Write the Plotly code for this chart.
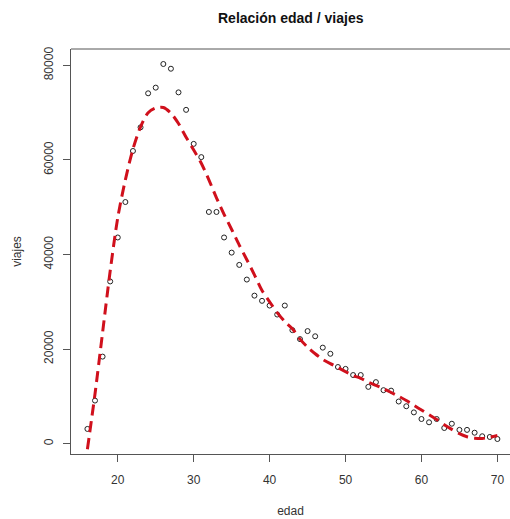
import plotly.graph_objects as go

# Observed points
edad = list(range(16, 71))
viajes = [3100, 9100, 18400, 34300, 43600, 51100, 61900, 66900, 74100, 75300,
          80300, 79300, 74300, 70600, 63400, 60600, 49000, 49000, 43600, 40400,
          37800, 34700, 31300, 30200, 29200, 27300, 29200, 24000, 22100, 23800,
          22700, 20300, 19000, 16200, 15800, 14500, 14500, 12000, 13000, 11300,
          11200, 8900, 7900, 6600, 5200, 4500, 5200, 3300, 4200, 2900,
          2900, 2300, 1550, 1400, 970]

# Fitted curve (dashed red)
curva_edad = list(range(16, 71))
curva_viajes = [-1200, 10500, 23500, 36500, 47800, 55800, 62300, 67000, 70000, 71000,
                71100, 69900, 67700, 64800, 62100, 59300, 55800, 52000, 48500, 45300,
                42000, 38900, 35700, 32400, 30000, 27700, 25800, 24300, 22100, 20400,
                19000, 17800, 16900, 16100, 15200, 14400, 13800, 13000, 12300, 11600,
                10800, 10000, 9100, 8100, 7100, 6100, 5100, 4000, 3000, 2100,
                1450, 1150, 1080, 1350, 1700]

x_ticks = [20, 30, 40, 50, 60, 70]
y_ticks = [0, 20000, 40000, 60000, 80000]

W, H = 510, 519
L, R, T, B = 71, 0, 49, 65
axis_col = "#555555"
txt_col = "#333333"
font_fam = "Liberation Sans, Arial, sans-serif"

fig = go.Figure()
fig.add_trace(go.Scatter(
    x=edad, y=viajes, mode="markers",
    marker=dict(symbol="circle-open", size=5, color="#222222", line=dict(width=1, color="#222222")),
    showlegend=False, hoverinfo="skip"))
fig.add_trace(go.Scatter(
    x=curva_edad, y=curva_viajes, mode="lines",
    line=dict(color="#d0101c", width=3, dash="11px,6px", shape="spline", smoothing=0.8),
    showlegend=False, hoverinfo="skip"))

fig.update_layout(
    width=W, height=H,
    margin=dict(l=L, r=R, t=T, b=B),
    paper_bgcolor="white", plot_bgcolor="white",
    font=dict(family=font_fam, size=12, color=txt_col),
    xaxis=dict(range=[13.84, 71.66], tickvals=x_ticks, ticktext=[str(v) for v in x_ticks],
               showgrid=False, zeroline=False, showline=True, linecolor=axis_col, linewidth=1,
               ticks="outside", ticklen=7, tickcolor=axis_col, tickfont=dict(size=12, color=txt_col),
               ticklabelstandoff=8,
               title=dict(text="edad", font=dict(size=12, color=txt_col), standoff=20)),
    yaxis=dict(range=[-2203, 83473], tickvals=y_ticks, ticktext=[str(v) for v in y_ticks],
               tickangle=-90, ticklabelstandoff=5,
               showgrid=False, zeroline=False, showline=True, linecolor=axis_col, linewidth=1,
               ticks="outside", ticklen=7, tickcolor=axis_col, tickfont=dict(size=12, color=txt_col),
               title=dict(text="viajes", font=dict(size=12, color=txt_col), standoff=18)),
    shapes=[dict(type="line", xref="paper", yref="paper", x0=0, x1=1, y0=1, y1=1,
                 line=dict(color=axis_col, width=1))],
    annotations=[dict(text="<b>Relación edad / viajes</b>", xref="paper", yref="paper",
                      x=(291 - L) / (W - L - R), y=1, yshift=31, showarrow=False,
                      xanchor="center", yanchor="middle",
                      font=dict(size=14, color="#111111", family=font_fam))],
)

fig.write_html("out.html")
